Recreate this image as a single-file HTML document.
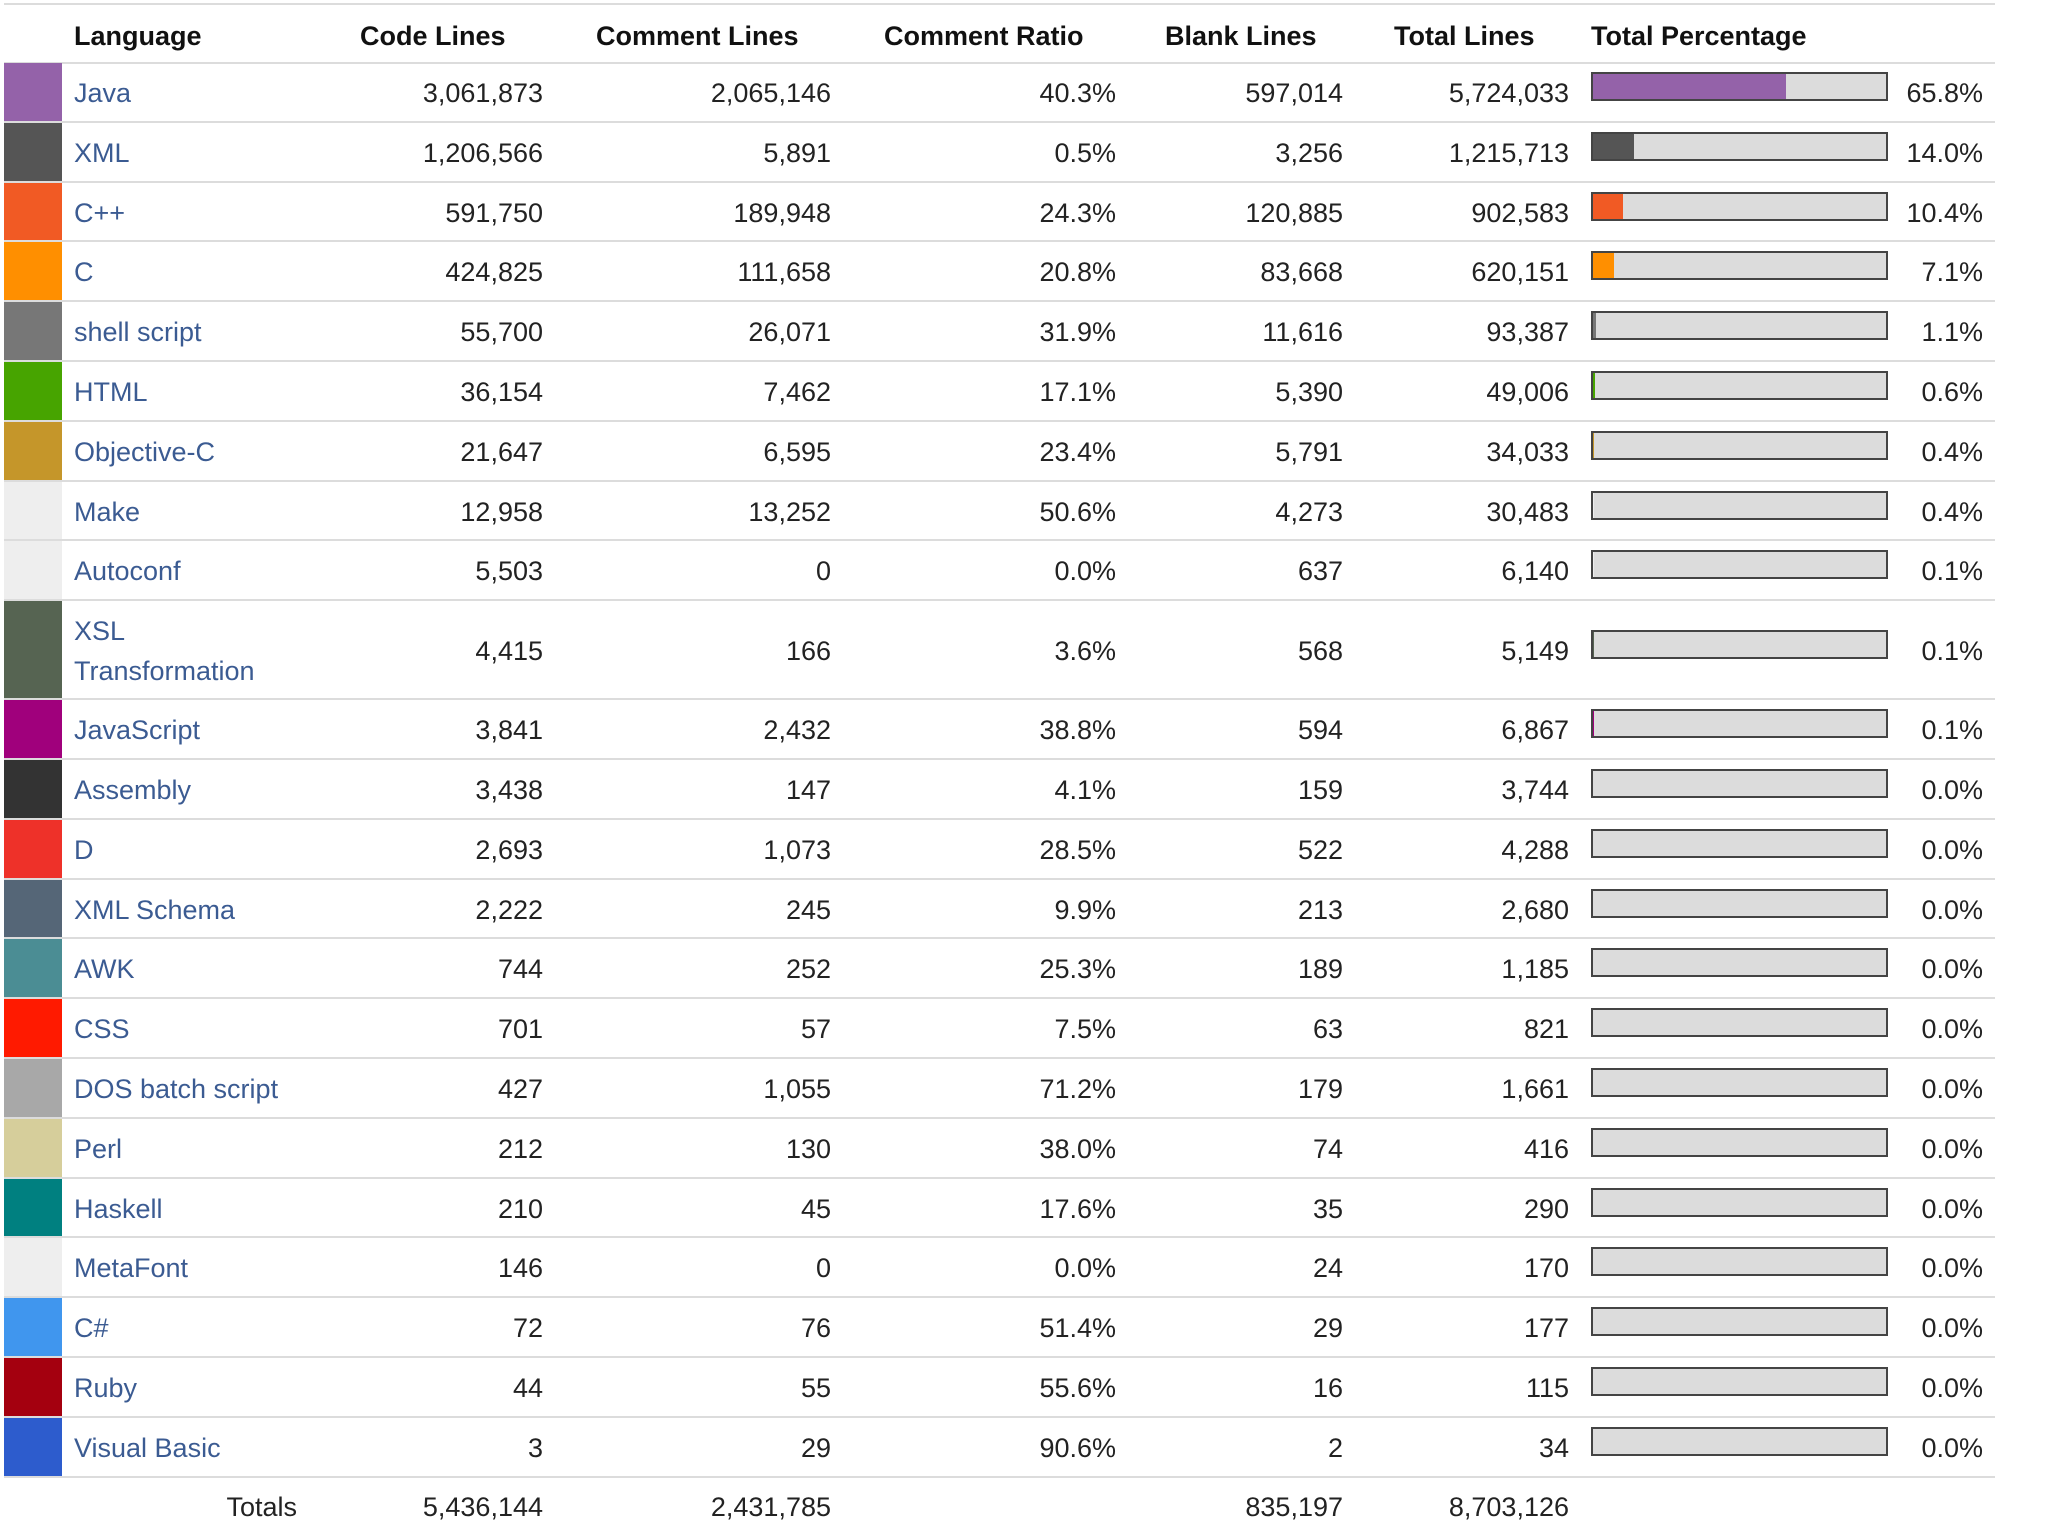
<!DOCTYPE html>
<html><head><meta charset="utf-8">
<style>
body{margin:0;width:2048px;height:1535px;background:#fff;font-family:"Liberation Sans",Arial,sans-serif;position:relative;overflow:hidden;color:#222}
.t{position:absolute;font-size:27px;line-height:30px;white-space:nowrap}
.h{font-weight:bold;color:#111}
.line{position:absolute;left:4px;width:1991px;height:2px;background:#dcdcdc}
.sw{position:absolute;left:4px;width:58px}
.lang{color:#3b5b92}
.bar{position:absolute;left:1591px;width:293px;height:25px;border:2px solid #444;background:#dcdcdc}
.fill{position:absolute;left:0;top:0;height:25px}
</style></head>
<body>
<div class="line" style="top:3px"></div>
<div class="t h" style="left:74px;top:21px">Language</div>
<div class="t h" style="left:360px;top:21px">Code Lines</div>
<div class="t h" style="left:596px;top:21px">Comment Lines</div>
<div class="t h" style="left:884px;top:21px">Comment Ratio</div>
<div class="t h" style="left:1165px;top:21px">Blank Lines</div>
<div class="t h" style="left:1394px;top:21px">Total Lines</div>
<div class="t h" style="left:1591px;top:21px">Total Percentage</div>
<div class="line" style="top:62px"></div>
<script>
const languages=["Java","XML","C++","C","shell script","HTML","Objective-C","Make","Autoconf","XSL Transformation","JavaScript","Assembly","D","XML Schema","AWK","CSS","DOS batch script","Perl","Haskell","MetaFont","C#","Ruby","Visual Basic"];
const colors=["#9462a9","#555555","#f15a24","#ff8f00","#777777","#47a400","#c5962a","#eeeeee","#eeeeee","#566452","#a0007c","#333333","#ee3129","#556677","#4b8d94","#ff1a00","#a8a8a8","#d6ce9b","#008080","#eeeeee","#4096ee","#a4000f","#2d5ccd"];
const codeLines=[3061873,1206566,591750,424825,55700,36154,21647,12958,5503,4415,3841,3438,2693,2222,744,701,427,212,210,146,72,44,3];
const commentLines=[2065146,5891,189948,111658,26071,7462,6595,13252,0,166,2432,147,1073,245,252,57,1055,130,45,0,76,55,29];
const commentRatio=[40.3,0.5,24.3,20.8,31.9,17.1,23.4,50.6,0.0,3.6,38.8,4.1,28.5,9.9,25.3,7.5,71.2,38.0,17.6,0.0,51.4,55.6,90.6];
const blankLines=[597014,3256,120885,83668,11616,5390,5791,4273,637,568,594,159,522,213,189,63,179,74,35,24,29,16,2];
const totalLines=[5724033,1215713,902583,620151,93387,49006,34033,30483,6140,5149,6867,3744,4288,2680,1185,821,1661,416,290,170,177,115,34];
const totalPct=[65.8,14.0,10.4,7.1,1.1,0.6,0.4,0.4,0.1,0.1,0.1,0.0,0.0,0.0,0.0,0.0,0.0,0.0,0.0,0.0,0.0,0.0,0.0];
const totals=["5,436,144","2,431,785","835,197","8,703,126"];
const fmt=n=>n.toLocaleString('en-US');
function add(cls,txt,left,right,top,name,inter){
  const d=document.createElement('div');
  d.className='t '+cls;
  d.textContent=txt;
  d.style.top=top+'px';
  if(right!=null){d.style.right=(2048-right)+'px';}else{d.style.left=left+'px';}
  
  
  document.body.appendChild(d);
  return d;
}
let y=63;
for(let i=0;i<languages.length;i++){
  const tall=languages[i]==="XSL Transformation";
  const h=tall?99:59.8;
  const cy=y+h/2;
  const sw=document.createElement('div');
  sw.className='sw';
  sw.style.top=y+'px';sw.style.height=(h-2)+'px';sw.style.background=colors[i];
  
  
  document.body.appendChild(sw);
  if(tall){
    add('lang','XSL',74,null,cy-35,'language-link','true');
    add('lang','Transformation',74,null,cy+5,'language-link','true');
  } else add('lang',languages[i],74,null,cy-15,'language-link','true');
  add('',fmt(codeLines[i]),null,543,cy-15,'code-lines-cell','false');
  add('',fmt(commentLines[i]),null,831,cy-15,'comment-lines-cell','false');
  add('',commentRatio[i].toFixed(1)+'%',null,1116,cy-15,'comment-ratio-cell','false');
  add('',fmt(blankLines[i]),null,1343,cy-15,'blank-lines-cell','false');
  add('',fmt(totalLines[i]),null,1569,cy-15,'total-lines-cell','false');
  const b=document.createElement('div');
  b.className='bar';b.style.top=(cy-21)+'px';
  
  
  const f=document.createElement('div');
  f.className='fill';f.style.width=(totalPct[i]/100*293)+'px';f.style.background=colors[i];
  
  
  b.appendChild(f);document.body.appendChild(b);
  add('',totalPct[i].toFixed(1)+'%',null,1983,cy-15,'total-percentage-cell','false');
  y+=h;
  const l=document.createElement('div');
  l.className='line';l.style.top=(y-2)+'px';
  
  
  document.body.appendChild(l);
}
const ty=1492;
add('','Totals',null,297,ty,'totals-label','false');
add('',totals[0],null,543,ty,'totals-code-lines','false');
add('',totals[1],null,831,ty,'totals-comment-lines','false');
add('',totals[2],null,1343,ty,'totals-blank-lines','false');
add('',totals[3],null,1569,ty,'totals-total-lines','false');
</script>
</body></html>
